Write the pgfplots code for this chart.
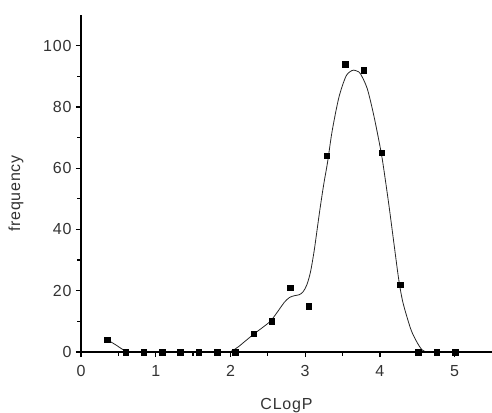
\documentclass[border=0pt]{standalone}
\usepackage{fontspec}
\setmainfont[LetterSpace=5]{Liberation Sans}
\usepackage{pgfplots}
\pgfplotsset{compat=1.18}

\begin{document}
\begin{tikzpicture}[x=1pt,y=1pt]
% frame of the whole picture, in pixels of the reference
\path[use as bounding box] (-81,-60) rectangle (411,352);
\begin{axis}[
    at={(0,0)}, anchor=origin,
    scale only axis,
    width=411pt, height=337pt,
    xmin=0, xmax=5.5,
    ymin=0, ymax=110,
    axis lines=left,
    axis on top,
    axis line style={-, line width=1.6pt},
    xtick={0,1,2,3,4,5},
    ytick={0,20,40,60,80,100},
    minor xtick={0.5,1.5,2.5,3.5,4.5},
    minor ytick={10,30,50,70,90},
    tick align=outside,
    major tick length=5pt,
    minor tick length=3.5pt,
    every tick/.style={black, line width=1.3pt},
    tick label style={font=\fontsize{16}{18}\selectfont, text=black!80},
    /pgf/number format/assume math mode=true,
    xticklabel style={yshift=-5pt},
    yticklabel style={xshift=-1pt},
    xlabel={CLogP},
    ylabel={frequency},
    label style={font=\fontsize{16}{18}\selectfont, text=black!80},
    xlabel style={at={(axis description cs:0.5,-0.158)}, anchor=center},
    ylabel style={at={(axis description cs:-0.158,0.47)}, anchor=center},
    clip=false,
]
% fitted curve
\addplot[black!85, line width=0.8pt, smooth, tension=0.5] coordinates {
    (0.35,4) (0.42,3) (0.48,2.1) (0.54,1.1) (0.60,0.3) (0.66,0)
    (1.0,0) (1.5,0) (1.95,0) (2.02,0.4) (2.1,1.6) (2.2,3.6) (2.32,6)
    (2.43,8) (2.54,10.2) (2.65,13.8) (2.72,16.2) (2.79,17.8) (2.86,18.4)
    (2.92,18.7) (2.97,19.6) (3.02,21.8) (3.07,26) (3.12,33) (3.16,40)
    (3.20,47) (3.25,55) (3.30,62) (3.36,72) (3.45,83) (3.54,89.7)
    (3.60,91.5) (3.65,92) (3.70,91.6) (3.74,90.8) (3.83,86) (3.92,77)
    (4.01,66) (4.05,60) (4.12,48) (4.19,35) (4.25,24) (4.30,17)
    (4.36,11.6) (4.42,7) (4.48,3.9) (4.53,1.8) (4.57,0.6) (4.62,0)
};
% histogram frequencies
\addplot[only marks, mark=square*, mark size=2.7pt, black] coordinates {
    (0.35,4) (0.595,0) (0.84,0) (1.085,0) (1.33,0) (1.575,0) (1.82,0)
    (2.065,0) (2.31,6) (2.555,10) (2.80,21) (3.045,15) (3.29,64)
    (3.535,94) (3.78,92) (4.025,65) (4.27,22) (4.515,0) (4.76,0) (5.005,0)
};
\end{axis}
\end{tikzpicture}
\end{document}
